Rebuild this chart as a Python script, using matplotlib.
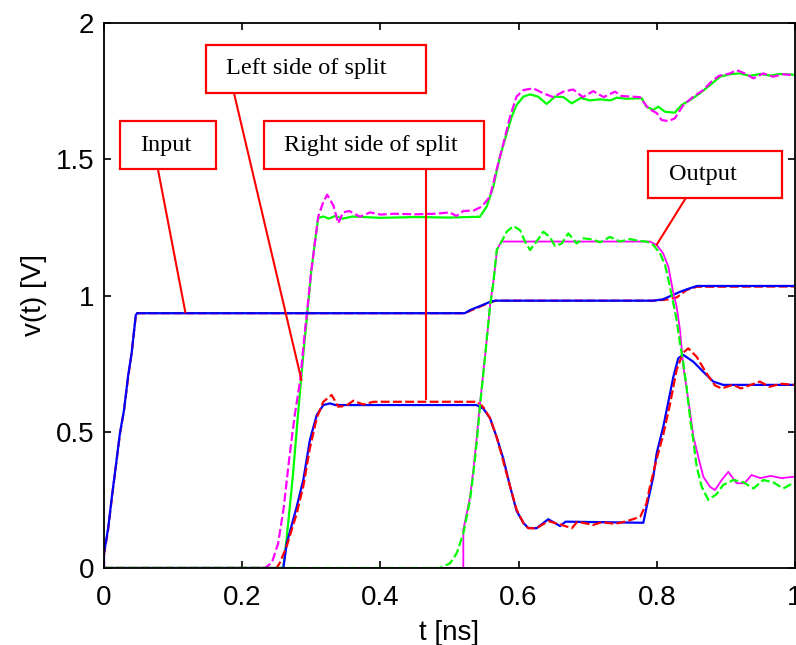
import numpy as np
import matplotlib
matplotlib.use("Agg")
import matplotlib.pyplot as plt
from matplotlib.patches import Rectangle

# -----------------------------------------------------------
# Data
# -----------------------------------------------------------

# Input node: blue solid / red dashed
t_in_b = [0, 0, 0.006, 0.012, 0.017, 0.023, 0.029, 0.035, 0.040, 0.046, 0.048,
          0.522, 0.530, 0.544, 0.559, 0.566, 0.795, 0.809, 0.834, 0.846, 0.858, 1.0]
v_in_b = [0, 0.054, 0.146, 0.274, 0.372, 0.494, 0.58, 0.708, 0.788, 0.928, 0.935,
          0.935, 0.947, 0.961, 0.977, 0.981, 0.981, 0.986, 1.014, 1.025, 1.035, 1.035]

t_in_r = [0, 0, 0.006, 0.012, 0.017, 0.023, 0.029, 0.035, 0.040, 0.046, 0.048,
          0.522, 0.531, 0.545, 0.559, 0.567, 0.795, 0.815, 0.829, 0.843, 0.858, 1.0]
v_in_r = [0, 0.05, 0.14, 0.27, 0.37, 0.49, 0.58, 0.70, 0.79, 0.925, 0.935,
          0.935, 0.945, 0.96, 0.975, 0.981, 0.981, 0.985, 0.993, 1.02, 1.032, 1.033]

# Right side of split: blue solid / red dashed
t_rs_b = [0, 0.2595, 0.2644, 0.2789, 0.2884, 0.298, 0.3078, 0.3174, 0.327, 0.335,
          0.539, 0.549, 0.5586, 0.5683, 0.578, 0.5876, 0.597, 0.607, 0.614, 0.626,
          0.643, 0.66, 0.668, 0.7805, 0.7853, 0.795, 0.7998, 0.8094, 0.8167, 0.824,
          0.8311, 0.8384, 0.8528, 0.8673, 0.8818, 0.8962, 1.0]
v_rs_b = [0, 0, 0.09, 0.225, 0.323, 0.47, 0.561, 0.598, 0.604, 0.598,
          0.598, 0.585, 0.55, 0.48, 0.40, 0.30, 0.21, 0.165, 0.147, 0.146,
          0.179, 0.154, 0.17, 0.166, 0.225, 0.335, 0.421, 0.519, 0.61, 0.702,
          0.77, 0.782, 0.757, 0.72, 0.684, 0.672, 0.672]

t_rs_r = [0, 0.25, 0.2546, 0.2644, 0.2789, 0.2884, 0.298, 0.3078, 0.3174, 0.3295,
          0.339, 0.35, 0.361, 0.375, 0.39, 0.54, 0.549, 0.5586, 0.5683, 0.578,
          0.5876, 0.597, 0.607, 0.614, 0.626, 0.643, 0.66, 0.677, 0.685, 0.708,
          0.72, 0.74, 0.757, 0.776, 0.785, 0.790, 0.7998, 0.8094, 0.819, 0.8287,
          0.838, 0.8456, 0.8577, 0.872, 0.8842, 0.8939, 0.91, 0.922, 0.949, 0.963,
          0.98, 1.0]
v_rs_r = [0, 0, 0.02, 0.08, 0.20, 0.30, 0.44, 0.55, 0.61, 0.635,
          0.592, 0.595, 0.614, 0.60, 0.61, 0.61, 0.59, 0.55, 0.48, 0.39,
          0.30, 0.215, 0.165, 0.146, 0.146, 0.172, 0.16, 0.146, 0.17, 0.158,
          0.168, 0.162, 0.172, 0.188, 0.237, 0.298, 0.40, 0.49, 0.60, 0.727,
          0.79, 0.806, 0.775, 0.714, 0.67, 0.659, 0.672, 0.659, 0.684, 0.665,
          0.676, 0.672]

# Left side of split: green solid / magenta dashed
t_ls_g = [0, 0.2595, 0.264, 0.273, 0.282, 0.289, 0.294, 0.300, 0.305, 0.310,
          0.318, 0.325, 0.335, 0.345, 0.36, 0.40, 0.45, 0.50, 0.544, 0.5538,
          0.5634, 0.573, 0.5828, 0.59, 0.597, 0.607, 0.6165, 0.628, 0.6406, 0.6527,
          0.665, 0.6768, 0.69, 0.703, 0.718, 0.733, 0.742, 0.756, 0.778, 0.785,
          0.795, 0.802, 0.812, 0.826, 0.836, 0.848, 0.8625, 0.877, 0.8915, 0.906,
          0.92, 0.935, 0.95, 0.964, 0.978, 1.0]
v_ls_g = [0, 0, 0.10, 0.33, 0.60, 0.80, 0.93, 1.09, 1.19, 1.285,
          1.29, 1.282, 1.292, 1.282, 1.29, 1.285, 1.288, 1.286, 1.289, 1.326,
          1.399, 1.509, 1.595, 1.656, 1.699, 1.73, 1.738, 1.73, 1.703, 1.73,
          1.728, 1.705, 1.725, 1.716, 1.72, 1.716, 1.726, 1.722, 1.724, 1.693,
          1.681, 1.693, 1.674, 1.671, 1.699, 1.717, 1.742, 1.772, 1.803, 1.812,
          1.815, 1.806, 1.813, 1.807, 1.813, 1.81]

t_ls_m = [0, 0.233, 0.243, 0.252, 0.26, 0.268, 0.276, 0.284, 0.29, 0.295,
          0.300, 0.305, 0.310, 0.317, 0.323, 0.332, 0.339, 0.346, 0.355, 0.3705,
          0.385, 0.40, 0.42, 0.45, 0.48, 0.50, 0.51, 0.52, 0.535, 0.5466,
          0.5586, 0.568, 0.578, 0.5876, 0.597, 0.607, 0.6213, 0.6358, 0.65, 0.6647,
          0.679, 0.693, 0.708, 0.723, 0.7395, 0.749, 0.763, 0.7757, 0.7877, 0.80,
          0.807, 0.8167, 0.826, 0.8384, 0.853, 0.8673, 0.879, 0.89, 0.906, 0.9156,
          0.93, 0.9397, 0.954, 0.968, 0.983, 1.0]
v_ls_m = [0, 0, 0.02, 0.09, 0.22, 0.40, 0.56, 0.69, 0.85, 0.97,
          1.09, 1.19, 1.29, 1.34, 1.37, 1.33, 1.265, 1.305, 1.31, 1.289,
          1.305, 1.297, 1.30, 1.298, 1.30, 1.305, 1.292, 1.31, 1.312, 1.326,
          1.363, 1.46, 1.558, 1.656, 1.73, 1.754, 1.76, 1.742, 1.728, 1.748,
          1.756, 1.728, 1.75, 1.728, 1.748, 1.732, 1.73, 1.728, 1.687, 1.669,
          1.644, 1.64, 1.65, 1.699, 1.73, 1.754, 1.785, 1.806, 1.815, 1.827,
          1.812, 1.797, 1.815, 1.803, 1.812, 1.808]

# Output node: magenta solid / green dashed
t_out_m = [0, 0.52, 0.52, 0.5297, 0.5345, 0.539, 0.544, 0.549, 0.554, 0.559,
           0.564, 0.569, 0.575, 0.79, 0.80, 0.809, 0.8167, 0.824, 0.8287, 0.8336,
           0.8384, 0.8456, 0.853, 0.86, 0.8673, 0.877, 0.8842, 0.8939, 0.9035, 0.9156,
           0.927, 0.937, 0.95, 0.965, 0.98, 1.0]
v_out_m = [0, 0, 0.14, 0.26, 0.36, 0.47, 0.60, 0.72, 0.84, 0.97,
           1.06, 1.17, 1.198, 1.198, 1.185, 1.155, 1.106, 1.008, 0.959, 0.873,
           0.739, 0.617, 0.482, 0.408, 0.335, 0.298, 0.286, 0.323, 0.353, 0.311,
           0.311, 0.341, 0.33, 0.338, 0.33, 0.335]

t_out_g = [0, 0.486, 0.5007, 0.5104, 0.52, 0.5297, 0.5345, 0.5393, 0.544, 0.549,
           0.5538, 0.5586, 0.5634, 0.5683, 0.5754, 0.5828, 0.5923, 0.602, 0.6093, 0.6165,
           0.626, 0.6358, 0.645, 0.6527, 0.662, 0.672, 0.684, 0.694, 0.708, 0.718,
           0.732, 0.747, 0.761, 0.775, 0.785, 0.795, 0.8046, 0.812, 0.819, 0.824,
           0.8287, 0.8336, 0.8384, 0.843, 0.8485, 0.8528, 0.8577, 0.865, 0.8745, 0.886,
           0.8962, 0.9107, 0.925, 0.94, 0.954, 0.968, 0.983, 1.0]
v_out_g = [0, 0, 0.017, 0.054, 0.127, 0.25, 0.347, 0.458, 0.592, 0.714,
           0.837, 0.96, 1.045, 1.167, 1.198, 1.234, 1.255, 1.24, 1.198, 1.167,
           1.198, 1.234, 1.215, 1.182, 1.19, 1.228, 1.191, 1.21, 1.205, 1.195,
           1.215, 1.198, 1.207, 1.2, 1.198, 1.185, 1.155, 1.112, 1.032, 0.971,
           0.91, 0.824, 0.751, 0.665, 0.543, 0.47, 0.372, 0.298, 0.25, 0.27,
           0.305, 0.323, 0.315, 0.292, 0.323, 0.315, 0.292, 0.315]

# annotation labels: text, box (x0, x1, y0, y1), text anchor, line (from, to)
notes = [
    ("Input", (0.0232, 0.162, 1.464, 1.640), (0.052, 1.552), ((0.078, 1.464), (0.118, 0.935))),
    ("Left side of split", (0.147, 0.4655, 1.744, 1.920), (0.1766, 1.832), ((0.188, 1.744), (0.286, 0.687))),
    ("Right side of split", (0.2311, 0.5499, 1.464, 1.6415), (0.261, 1.552), ((0.466, 1.464), (0.466, 0.617))),
    ("Output", (0.7868, 0.9816, 1.357, 1.531), (0.8177, 1.444), ((0.8418, 1.357), (0.799, 1.183))),
]

# -----------------------------------------------------------
# Plot
# -----------------------------------------------------------

plt.rcParams.update({
    "font.family": "Liberation Sans",
    "font.size": 20,
})

fig = plt.figure(figsize=(7.96, 6.45), dpi=100)
ax = fig.add_axes([104 / 796, 77 / 645, 691 / 796, 545 / 645])

dash = (4, 1.5)
lw = 1.6

ax.plot(t_ls_g, v_ls_g, color="#00ff00", lw=lw, zorder=2)
ax.plot(t_ls_m, v_ls_m, color="#ff00ff", lw=lw, dashes=dash, zorder=2.1)

ax.plot(t_in_r, v_in_r, color="#ff0000", lw=lw, dashes=dash, zorder=2.2)
ax.plot(t_in_b, v_in_b, color="#0000ff", lw=lw, zorder=2.3)

ax.plot(t_rs_b, v_rs_b, color="#0000ff", lw=lw, zorder=2.2)
ax.plot(t_rs_r, v_rs_r, color="#ff0000", lw=lw, dashes=dash, zorder=2.3)

ax.plot(t_out_m, v_out_m, color="#ff00ff", lw=1.3, zorder=2.4)
ax.plot(t_out_g, v_out_g, color="#00ff00", lw=lw, dashes=dash, zorder=2.5)

for label, (x0, x1, y0, y1), (tx, ty), (p0, p1) in notes:
    ax.plot([p0[0], p1[0]], [p0[1], p1[1]], color="red", lw=1.5, zorder=4,
            solid_capstyle="butt")
    ax.add_patch(Rectangle((x0, y0), x1 - x0, y1 - y0, fc="white", ec="red",
                           lw=1.6, zorder=5))
    ax.text(tx, ty, label, family="Liberation Serif", fontsize=17.5,
            ha="left", va="center", zorder=6)

ax.set_xlim(0, 1)
ax.set_ylim(0, 2)
ax.set_xticks([0, 0.2, 0.4, 0.6, 0.8, 1])
ax.set_xticklabels(["0", "0.2", "0.4", "0.6", "0.8", "1"])
ax.set_yticks([0, 0.5, 1, 1.5, 2])
ax.set_yticklabels(["0", "0.5", "1", "1.5", "2"])
ax.tick_params(direction="in", length=5, width=1.2, top=True, right=True)
ax.tick_params(axis="x", pad=12)
ax.tick_params(axis="y", pad=7)
for s in ax.spines.values():
    s.set_linewidth(1.3)

ax.set_xlabel("t [ns]", labelpad=7)
ax.set_ylabel("v(t) [V]", labelpad=6)

fig.savefig("out.png", dpi=100)
